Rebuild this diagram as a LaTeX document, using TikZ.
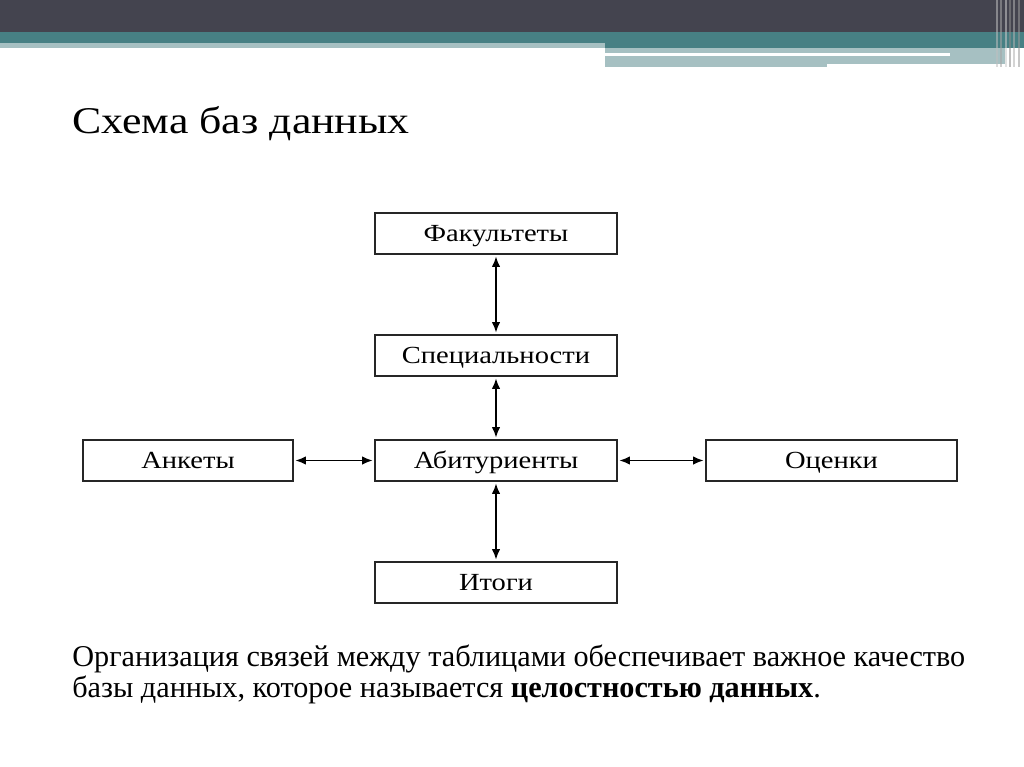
\documentclass[tikz,border=0pt]{standalone}
\usepackage{fontspec}
\setmainfont{Liberation Serif}
\usetikzlibrary{arrows.meta, positioning}

\definecolor{barDark}{HTML}{44444F}
\definecolor{barTeal}{HTML}{478084}
\definecolor{barLight}{HTML}{A6C0C2}

\begin{document}
\begin{tikzpicture}[x=0.02cm, y=-0.02cm]
	\tikzstyle{tbl}=[draw=black!85, thick, minimum width=4.84cm, minimum height=0.82cm, inner sep=0pt,
		text height=9.4pt, text depth=0pt, font=\fontsize{14}{16}\selectfont\addfontfeature{FakeStretch=1.16}]
	\tikzstyle{link}=[{Latex[length=2.1mm,width=1.7mm]}-{Latex[length=2.1mm,width=1.7mm]}, thick, shorten >=1pt, shorten <=1pt]
	
	% page frame
	\useasboundingbox (0,0) rectangle (1024,767);
	\fill[white] (0,0) rectangle (1024,767);
	
	% header bars
	\fill[barDark] (0,0) rectangle (1024,32);
	\fill[barTeal] (0,32) rectangle (1024,43);
	\fill[barTeal] (605,43) rectangle (1024,48);
	\fill[barLight] (0,43) rectangle (605,48);
	\fill[barLight] (605,48) rectangle (1005,67);
	\fill[white] (605,53) rectangle (950,56);
	\fill[white] (827,64) rectangle (1005,67);
	\foreach \xx/\cc in {996/gray!50, 1000/gray!70, 1005/gray!40, 1009/gray!90, 1013/gray!60, 1018/gray!80}
		\fill[\cc, opacity=0.55] (\xx,0) rectangle (\xx+2,67);
	
	% title
	\node[anchor=base west, inner sep=0pt, font=\fontsize{21.5}{24}\selectfont\addfontfeature{FakeStretch=1.16}] (title) at (72,133) {Схема баз данных};
	
	% tables
	\node[tbl] (fak) at (496,233.5) {Факультеты};
	\node[tbl] (spec) at (496,355.5) {Специальности};
	\node[tbl] (abit) at (496,460.5) {Абитуриенты};
	\node[tbl, minimum width=4.2cm] (ank) at (188,460.5) {Анкеты};
	\node[tbl, minimum width=5.02cm] (ocen) at (831.5,460.5) {Оценки};
	\node[tbl] (itog) at (496,582.5) {Итоги};
	
	% links
	\path[link] (fak) edge (spec);
	\path[link] (spec) edge (abit);
	\path[link] (abit) edge (itog);
	\path[link] (ank) edge (abit);
	\path[link] (abit) edge (ocen);
	
	% caption
	\node[anchor=base west, inner sep=0pt, align=left, font=\fontsize{17.2}{17.6}\selectfont] (note) at (72,697)
		{Организация связей между таблицами обеспечивает важное качество\\базы данных, которое называется \textbf{целостностью данных}.};
\end{tikzpicture}
\end{document}
